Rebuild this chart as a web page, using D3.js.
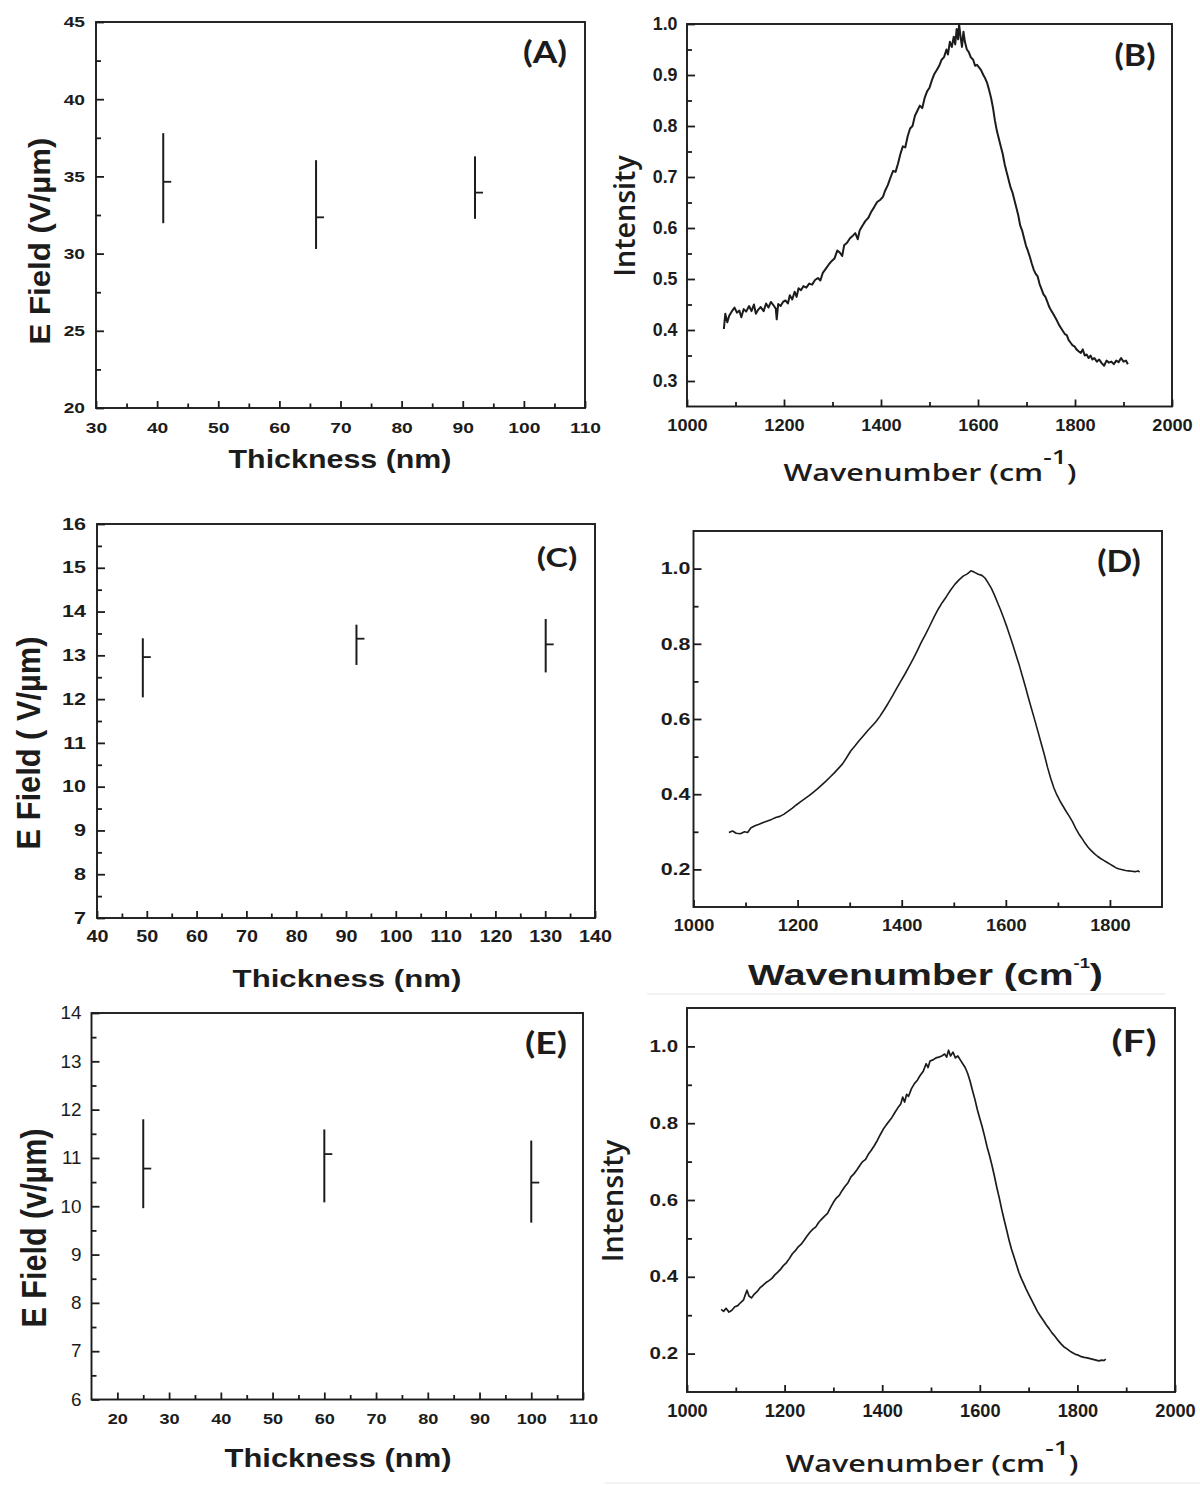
<!DOCTYPE html>
<html><head><meta charset="utf-8">
<script src="https://cdn.jsdelivr.net/npm/d3@7"></script>
<style>body{margin:0;background:#fff}</style>
</head><body>
<script>
// ---------------- DATA ----------------
// Panel A: E field vs thickness
const thickA = [41, 66, 92];
const fieldA = [34.65, 32.35, 33.95];
const lowA   = [31.97, 30.3, 32.25];
const highA  = [37.8, 36.05, 36.3];
// Panel C
const thickC = [49.2, 92.1, 130.1];
const fieldC = [12.96, 13.38, 13.25];
const lowC   = [12.04, 12.78, 12.61];
const highC  = [13.39, 13.7, 13.83];
// Panel E
const thickE = [25, 60, 100];
const fieldE = [10.78, 11.08, 10.49];
const lowE   = [9.96, 10.08, 9.66];
const highE  = [11.8, 11.59, 11.36];

// Tick values
const ticksA_x = [30,40,50,60,70,80,90,100,110];
const minorA_x = [35,45,55,65,75,85,95,105];
const ticksA_y = [20,25,30,35,40,45];
const minorA_y = [22.5,27.5,32.5,37.5,42.5];
const ticksB_x = [1000,1200,1400,1600,1800,2000];
const minorB_x = [1100,1300,1500,1700,1900];
const ticksB_y = [0.3,0.4,0.5,0.6,0.7,0.8,0.9,1.0];
const minorB_y = [0.35,0.45,0.55,0.65,0.75,0.85,0.95];
const ticksC_x = [40,50,60,70,80,90,100,110,120,130,140];
const minorC_x = [45,55,65,75,85,95,105,115,125,135];
const ticksC_y = [7,8,9,10,11,12,13,14,15,16];
const minorC_y = [7.5,8.5,9.5,10.5,11.5,12.5,13.5,14.5,15.5];
const ticksD_x = [1000,1200,1400,1600,1800];
const minorD_x = [1100,1300,1500,1700];
const ticksD_y = [0.2,0.4,0.6,0.8,1.0];
const minorD_y = [0.3,0.5,0.7,0.9];
const ticksE_x = [20,30,40,50,60,70,80,90,100,110];
const minorE_x = [25,35,45,55,65,75,85,95,105];
const ticksE_y = [6,7,8,9,10,11,12,13,14];
const minorE_y = [6.5,7.5,8.5,9.5,10.5,11.5,12.5,13.5];
const ticksF_x = [1000,1200,1400,1600,1800,2000];
const minorF_x = [1100,1300,1500,1700,1900];
const ticksF_y = [0.2,0.4,0.6,0.8,1.0];
const minorF_y = [0.3,0.5,0.7,0.9];

// Spectrum B (wavenumber, intensity)
const specB = [[1076,0.402],[1079,0.432],[1083,0.415],[1087,0.428],[1092,0.436],[1098,0.444],[1103,0.434],[1108,0.438],[1112,0.425],[1117,0.441],[1122,0.436],[1128,0.447],[1133,0.437],[1138,0.45],[1142,0.432],[1147,0.44],[1152,0.445],[1158,0.437],[1163,0.452],[1168,0.444],[1173,0.455],[1178,0.449],[1183,0.442],[1185,0.421],[1188,0.451],[1193,0.447],[1198,0.455],[1203,0.458],[1208,0.452],[1212,0.468],[1217,0.46],[1222,0.475],[1226,0.465],[1230,0.482],[1235,0.478],[1240,0.486],[1246,0.483],[1252,0.491],[1258,0.489],[1264,0.498],[1270,0.502],[1275,0.497],[1280,0.512],[1286,0.52],[1292,0.528],[1298,0.535],[1304,0.54],[1310,0.556],[1315,0.552],[1320,0.545],[1324,0.566],[1330,0.571],[1336,0.58],[1342,0.585],[1347,0.59],[1352,0.578],[1356,0.595],[1362,0.605],[1368,0.614],[1374,0.62],[1380,0.632],[1386,0.641],[1392,0.651],[1398,0.655],[1404,0.661],[1408,0.672],[1414,0.684],[1420,0.70],[1425,0.712],[1430,0.71],[1435,0.726],[1440,0.745],[1445,0.76],[1450,0.758],[1455,0.78],[1460,0.795],[1465,0.8],[1470,0.82],[1475,0.83],[1480,0.84],[1485,0.835],[1490,0.855],[1495,0.868],[1500,0.875],[1505,0.89],[1510,0.902],[1515,0.91],[1520,0.918],[1525,0.93],[1530,0.935],[1535,0.95],[1538,0.94],[1542,0.965],[1546,0.955],[1550,0.975],[1553,0.96],[1556,0.99],[1559,0.97],[1561,1.0],[1564,0.975],[1567,0.955],[1570,0.985],[1573,0.965],[1577,0.95],[1581,0.945],[1585,0.935],[1590,0.93],[1594,0.918],[1598,0.92],[1602,0.915],[1606,0.91],[1611,0.90],[1615,0.893],[1619,0.884],[1623,0.87],[1627,0.855],[1631,0.835],[1635,0.81],[1639,0.79],[1643,0.775],[1647,0.76],[1651,0.745],[1655,0.725],[1659,0.71],[1663,0.695],[1667,0.68],[1671,0.67],[1675,0.655],[1679,0.64],[1683,0.625],[1687,0.605],[1691,0.595],[1695,0.58],[1699,0.565],[1703,0.555],[1707,0.543],[1711,0.53],[1715,0.518],[1719,0.51],[1723,0.505],[1727,0.49],[1731,0.48],[1735,0.47],[1739,0.465],[1743,0.455],[1747,0.445],[1751,0.438],[1755,0.432],[1759,0.425],[1763,0.418],[1767,0.41],[1771,0.404],[1775,0.398],[1779,0.392],[1783,0.39],[1787,0.38],[1791,0.375],[1795,0.37],[1799,0.368],[1803,0.362],[1808,0.358],[1812,0.355],[1816,0.362],[1820,0.35],[1824,0.352],[1828,0.345],[1832,0.35],[1836,0.342],[1840,0.345],[1845,0.338],[1850,0.342],[1855,0.335],[1860,0.33],[1865,0.34],[1870,0.336],[1875,0.338],[1880,0.333],[1885,0.34],[1890,0.337],[1895,0.345],[1900,0.338],[1905,0.34],[1909,0.333]];

// Spectrum D
const specD = [[1068,0.298],[1075,0.302],[1082,0.296],[1090,0.295],[1098,0.3],[1104,0.298],[1110,0.31],[1118,0.316],[1126,0.32],[1134,0.325],[1142,0.329],[1150,0.333],[1158,0.338],[1166,0.341],[1174,0.347],[1182,0.355],[1190,0.363],[1198,0.372],[1206,0.38],[1214,0.388],[1222,0.396],[1230,0.405],[1238,0.414],[1246,0.424],[1254,0.434],[1262,0.445],[1270,0.456],[1278,0.468],[1286,0.48],[1294,0.497],[1302,0.515],[1310,0.528],[1318,0.542],[1326,0.555],[1334,0.568],[1342,0.58],[1350,0.592],[1358,0.607],[1366,0.624],[1374,0.642],[1382,0.661],[1390,0.681],[1398,0.7],[1406,0.719],[1414,0.739],[1422,0.76],[1430,0.782],[1438,0.805],[1446,0.826],[1454,0.848],[1462,0.871],[1470,0.892],[1478,0.91],[1486,0.926],[1494,0.943],[1502,0.958],[1510,0.97],[1518,0.98],[1526,0.986],[1533,0.994],[1540,0.99],[1547,0.985],[1554,0.982],[1560,0.975],[1566,0.962],[1572,0.948],[1578,0.93],[1584,0.91],[1590,0.89],[1596,0.868],[1602,0.845],[1608,0.82],[1614,0.795],[1620,0.768],[1626,0.742],[1632,0.713],[1638,0.684],[1644,0.653],[1650,0.624],[1656,0.595],[1662,0.565],[1668,0.535],[1674,0.505],[1680,0.472],[1686,0.443],[1692,0.418],[1698,0.398],[1704,0.382],[1710,0.368],[1716,0.354],[1722,0.341],[1728,0.327],[1734,0.31],[1740,0.295],[1746,0.283],[1752,0.27],[1758,0.259],[1764,0.25],[1770,0.242],[1776,0.235],[1782,0.229],[1788,0.224],[1794,0.219],[1800,0.214],[1806,0.209],[1812,0.204],[1818,0.201],[1824,0.199],[1830,0.197],[1836,0.196],[1842,0.195],[1848,0.194],[1854,0.196],[1857,0.193]];

// Spectrum F
const specF = [[1070,0.315],[1075,0.31],[1080,0.318],[1086,0.308],[1092,0.313],[1098,0.322],[1104,0.325],[1110,0.333],[1116,0.34],[1120,0.355],[1123,0.365],[1127,0.35],[1132,0.345],[1138,0.355],[1144,0.362],[1150,0.372],[1156,0.378],[1162,0.385],[1168,0.39],[1174,0.396],[1180,0.405],[1186,0.412],[1192,0.42],[1198,0.43],[1204,0.437],[1210,0.448],[1216,0.46],[1222,0.468],[1228,0.478],[1234,0.485],[1240,0.495],[1246,0.506],[1252,0.516],[1258,0.524],[1264,0.53],[1270,0.542],[1276,0.55],[1282,0.558],[1288,0.565],[1294,0.58],[1300,0.594],[1306,0.605],[1312,0.612],[1318,0.625],[1324,0.636],[1330,0.645],[1336,0.66],[1342,0.668],[1348,0.678],[1354,0.69],[1360,0.7],[1366,0.706],[1372,0.72],[1378,0.73],[1384,0.742],[1390,0.755],[1396,0.77],[1402,0.784],[1408,0.795],[1414,0.805],[1420,0.815],[1426,0.828],[1432,0.84],[1438,0.85],[1442,0.868],[1446,0.855],[1450,0.875],[1454,0.87],[1460,0.89],[1466,0.903],[1472,0.912],[1478,0.925],[1484,0.935],[1490,0.955],[1494,0.945],[1498,0.962],[1504,0.965],[1510,0.97],[1516,0.972],[1522,0.975],[1528,0.98],[1532,0.972],[1536,0.99],[1540,0.975],[1545,0.985],[1550,0.97],[1555,0.975],[1560,0.965],[1565,0.955],[1570,0.945],[1575,0.93],[1580,0.91],[1585,0.885],[1590,0.862],[1595,0.835],[1600,0.812],[1605,0.79],[1610,0.765],[1615,0.738],[1620,0.715],[1625,0.69],[1630,0.662],[1635,0.632],[1640,0.605],[1645,0.575],[1650,0.548],[1655,0.522],[1660,0.495],[1665,0.472],[1670,0.452],[1675,0.432],[1680,0.412],[1685,0.396],[1690,0.382],[1695,0.368],[1700,0.355],[1706,0.34],[1712,0.325],[1718,0.31],[1724,0.298],[1730,0.287],[1736,0.275],[1742,0.265],[1748,0.254],[1754,0.245],[1760,0.235],[1766,0.226],[1772,0.218],[1778,0.213],[1784,0.207],[1790,0.202],[1796,0.198],[1802,0.196],[1808,0.192],[1814,0.19],[1820,0.189],[1826,0.187],[1832,0.185],[1838,0.183],[1844,0.181],[1850,0.183],[1855,0.182],[1858,0.186]];

// ---------------- DRAWING ----------------
const W = 1200, H = 1486;
const INK = "#1c1c1c";
const svg = d3.select("body").append("svg").attr("width", W).attr("height", H)
  .style("display","block").style("background","#fff");

svg.append("line").attr("x1",647).attr("x2",1165).attr("y1",994).attr("y2",994).attr("stroke","#e6e6e6").attr("stroke-width",1.2);
svg.append("line").attr("x1",605).attr("x2",1200).attr("y1",1483).attr("y2",1483).attr("stroke","#e6e6e6").attr("stroke-width",1.2);

function txt(parent, o) {
  const t = parent.append("text").attr("x",0).attr("y",0)
    .attr("font-family", o.family).attr("font-size", o.size)
    .attr("font-weight", o.weight || "bold").attr("text-anchor","middle").attr("fill", INK);
  if (o.parts) {
    o.parts.forEach(p => {
      const s = t.append("tspan").text(p.t);
      if (p.size) s.attr("font-size", p.size);
      if (p.dy) s.attr("dy", p.dy);
    });
  } else t.text(o.text);
  const w = t.node().getBBox().width;
  const sx = o.width ? o.width / w : 1;
  t.attr("transform", `translate(${o.x},${o.y})` + (o.rot ? ` rotate(${o.rot})` : "") + ` scale(${sx},1)`);
  return t;
}

function panel(c) {
  const g = svg.append("g");
  const x = d3.scaleLinear().domain(c.xd).range([c.L, c.R]);
  const y = d3.scaleLinear().domain(c.yd).range([c.B, c.T]);

  const styleAxis = (sel, fam, size, weight) => {
    sel.select(".domain").remove();
    sel.attr("font-family", fam).attr("font-size", size).attr("font-weight", weight);
    sel.selectAll("line").attr("stroke", INK).attr("stroke-width", 1.8);
    sel.selectAll("text").attr("fill", INK);
  };

  const gx = g.append("g").attr("transform", `translate(0,${c.B})`)
    .call(d3.axisBottom(x).tickValues(c.xt).tickSizeInner(-7).tickSizeOuter(0)
      .tickPadding(c.xpad).tickFormat(c.xf));
  styleAxis(gx, "Liberation Sans, Arial, sans-serif", c.xs, "bold");
  gx.selectAll("text").attr("transform", `scale(${c.xsx},1)`);
  const gxm = g.append("g").attr("transform", `translate(0,${c.B})`)
    .call(d3.axisBottom(x).tickValues(c.xm).tickSizeInner(-4.5).tickSizeOuter(0).tickFormat(() => ""));
  styleAxis(gxm, "sans-serif", 1, "normal");

  const gy = g.append("g").attr("transform", `translate(${c.L},0)`)
    .call(d3.axisLeft(y).tickValues(c.yt).tickSizeInner(-8).tickSizeOuter(0)
      .tickPadding(0).tickFormat(c.yf));
  styleAxis(gy, "Liberation Sans, Arial, sans-serif", c.ys, c.yw || "bold");
  gy.selectAll("text").attr("x", -c.ypad / c.ysx).attr("transform", `scale(${c.ysx},1)`);
  const gym = g.append("g").attr("transform", `translate(${c.L},0)`)
    .call(d3.axisLeft(y).tickValues(c.ym).tickSizeInner(-5).tickSizeOuter(0).tickFormat(() => ""));
  styleAxis(gym, "sans-serif", 1, "normal");

  g.append("rect").attr("x", c.L).attr("y", c.T).attr("width", c.R - c.L).attr("height", c.B - c.T)
    .attr("fill", "none").attr("stroke", INK).attr("stroke-width", 1.9);

  return { g, x, y };
}

function errorBars(p, xs, vs, lo, hi) {
  const data = xs.map((t, i) => ({ t, v: vs[i], lo: lo[i], hi: hi[i] }));
  p.g.selectAll(null).data(data).enter().append("line")
    .attr("x1", d => p.x(d.t)).attr("x2", d => p.x(d.t))
    .attr("y1", d => p.y(d.lo)).attr("y2", d => p.y(d.hi))
    .attr("stroke", INK).attr("stroke-width", 2);
  p.g.selectAll(null).data(data).enter().append("line")
    .attr("x1", d => p.x(d.t)).attr("x2", d => p.x(d.t) + 8)
    .attr("y1", d => p.y(d.v)).attr("y2", d => p.y(d.v))
    .attr("stroke", INK).attr("stroke-width", 1.8);
}

function spectrum(p, data, sw) {
  p.g.append("path").datum(data)
    .attr("d", d3.line().x(d => p.x(d[0])).y(d => p.y(d[1])))
    .attr("fill", "none").attr("stroke", INK).attr("stroke-width", sw).attr("stroke-linejoin", "round");
}

const fInt = d3.format("d");
const f1 = d3.format(".1f");
const LBL = "Lato, Open Sans, sans-serif";

// ---- Panel A ----
const pA = panel({ L: 96, R: 585, T: 22, B: 408, xd: [30, 110], yd: [20, 45],
  xt: ticksA_x, xm: minorA_x, yt: ticksA_y, ym: minorA_y, xf: fInt, yf: fInt,
  xs: 15.5, xsx: 1.24, xpad: 14, ys: 15.5, ysx: 1.24, ypad: 11 });
errorBars(pA, thickA, fieldA, lowA, highA);
txt(svg, { text: "Thickness (nm)", family: "Liberation Sans, Arial", size: 25, x: 340, y: 468, width: 223 });
txt(svg, { text: "E Field (V/\u00b5m)", family: "Liberation Sans, Arial", size: 29, x: 50, y: 241, rot: -90, width: 207 });
txt(svg, { text: "(A)", family: LBL, size: 30, x: 545, y: 63, width: 44 });

// ---- Panel B ----
const pB = panel({ L: 687, R: 1172, T: 24, B: 406.5, xd: [1000, 2000], yd: [0.25, 1.0],
  xt: ticksB_x, xm: minorB_x, yt: ticksB_y, ym: minorB_y, xf: fInt, yf: f1,
  xs: 17, xsx: 1.07, xpad: 12, ys: 17.5, ysx: 1.02, ypad: 9.5 });
spectrum(pB, specB, 2);
txt(svg, { parts: [{ t: "Wavenumber (cm" }, { t: "-1", size: 20, dy: -17 }, { t: ")", dy: 17 }],
  family: "Open Sans", weight: 600, size: 23, x: 930, y: 481, width: 293 });
txt(svg, { text: "Intensity", family: "Open Sans", weight: 600, size: 29, x: 635, y: 216, rot: -90, width: 122 });
txt(svg, { text: "(B)", family: LBL, size: 31, x: 1135, y: 66, width: 41 });

// ---- Panel C ----
const pC = panel({ L: 97, R: 595, T: 524, B: 918, xd: [40, 140], yd: [7, 16],
  xt: ticksC_x, xm: minorC_x, yt: ticksC_y, ym: minorC_y, xf: fInt, yf: fInt,
  xs: 16.5, xsx: 1.2, xpad: 12, ys: 16, ysx: 1.35, ypad: 11 });
errorBars(pC, thickC, fieldC, lowC, highC);
txt(svg, { text: "Thickness (nm)", family: "Liberation Sans, Arial", size: 24.5, x: 347, y: 987, width: 229 });
txt(svg, { text: "E Field ( V/\u00b5m)", family: "Liberation Sans, Arial", size: 33, x: 40, y: 743, rot: -90, width: 213 });
txt(svg, { text: "(C)", family: LBL, size: 27, x: 557, y: 567, width: 40.5 });

// ---- Panel D ----
const pD = panel({ L: 693.5, R: 1162, T: 531, B: 907, xd: [1000, 1900], yd: [0.1, 1.1],
  xt: ticksD_x, xm: minorD_x, yt: ticksD_y, ym: minorD_y, xf: fInt, yf: f1,
  xs: 16, xsx: 1.14, xpad: 13, ys: 16.5, ysx: 1.3, ypad: 3 });
spectrum(pD, specD, 1.6);
txt(svg, { parts: [{ t: "Wavenumber (cm" }, { t: "-1", size: 14, dy: -17 }, { t: ")", dy: 17 }],
  family: "Liberation Sans, Arial", size: 30, x: 925.5, y: 985, width: 355 });
txt(svg, { text: "(D)", family: LBL, size: 30, x: 1119, y: 572, width: 43.5 });

// ---- Panel E ----
const pE = panel({ L: 91.5, R: 583, T: 1013, B: 1399.5, xd: [15, 110], yd: [6, 14],
  xt: ticksE_x, xm: minorE_x, yt: ticksE_y, ym: minorE_y, xf: fInt, yf: fInt,
  xs: 15.5, xsx: 1.17, xpad: 14, ys: 18, ysx: 1.05, ypad: 10, yw: "normal" });
errorBars(pE, thickE, fieldE, lowE, highE);
txt(svg, { text: "Thickness (nm)", family: "Liberation Sans, Arial", size: 26, x: 338, y: 1467, width: 227 });
txt(svg, { text: "E Field (v/\u00b5m)", family: "Liberation Sans, Arial", size: 36, x: 46, y: 1228, rot: -90, width: 199 });
txt(svg, { text: "(E)", family: LBL, size: 30, x: 546, y: 1054, width: 42 });

// ---- Panel F ----
const pF = panel({ L: 687, R: 1175, T: 1008, B: 1392, xd: [1000, 2000], yd: [0.1, 1.1],
  xt: ticksF_x, xm: minorF_x, yt: ticksF_y, ym: minorF_y, xf: fInt, yf: f1,
  xs: 17.5, xsx: 1.04, xpad: 13, ys: 16, ysx: 1.28, ypad: 9 });
spectrum(pF, specF, 1.7);
txt(svg, { parts: [{ t: "Wavenumber (cm" }, { t: "-1", size: 20, dy: -17 }, { t: ")", dy: 17 }],
  family: "Open Sans", weight: 600, size: 23, x: 932, y: 1472, width: 293 });
txt(svg, { text: "Intensity", family: "Open Sans", weight: 600, size: 29, x: 623, y: 1201, rot: -90, width: 123 });
txt(svg, { text: "(F)", family: LBL, size: 31, x: 1134, y: 1052, width: 45 });
</script>
</body></html>
